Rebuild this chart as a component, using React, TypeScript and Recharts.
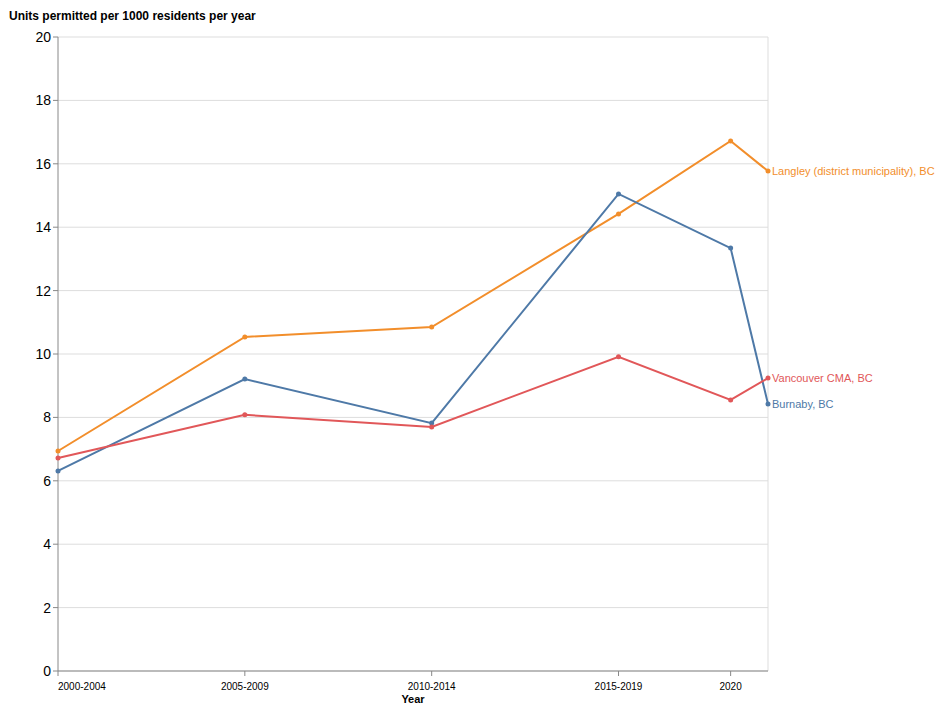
import React from 'react';
import { LineChart, Line, XAxis, YAxis, CartesianGrid, ReferenceLine } from 'recharts';

const years = [2000, 2005, 2010, 2015, 2018, 2019];
const tickYears = [2000, 2005, 2010, 2015, 2018];
const tickLabels = ['2000-2004', '2005-2009', '2010-2014', '2015-2019', '2020'];
const langley = [6.94, 10.54, 10.85, 14.42, 16.72, 15.77];
const burnaby = [6.31, 9.21, 7.82, 15.05, 13.34, 8.42];
const vancouver = [6.72, 8.08, 7.7, 9.91, 8.55, 9.24];
const yTicks = [0, 2, 4, 6, 8, 10, 12, 14, 16, 18, 20];

const series = [
  { key: 'langley', name: 'Langley (district municipality), BC', color: '#f28e2b' },
  { key: 'burnaby', name: 'Burnaby, BC', color: '#4e79a7' },
  { key: 'vancouver', name: 'Vancouver CMA, BC', color: '#e15759' },
];

const data = years.map((y, i) => ({
  year: y,
  langley: langley[i],
  burnaby: burnaby[i],
  vancouver: vancouver[i],
}));

const XTick = (props: any) => {
  const { x, y, payload } = props;
  const idx = tickYears.indexOf(payload.value);
  return (
    <text x={x} y={y + 12} textAnchor={idx === 0 ? 'start' : 'middle'} fontSize={10} fill="#000" fontFamily="Arial, Liberation Sans, sans-serif">
      {tickLabels[idx]}
    </text>
  );
};

const endLabel = (name: string, color: string) => (props: any) => {
  const { x, y, index } = props;
  if (index !== years.length - 1) return null;
  return (
    <text x={x + 4} y={y + 4} fontSize={11} fill={color} fontFamily="Arial, Liberation Sans, sans-serif">
      {name}
    </text>
  );
};

export default function App() {
  return (
    <div style={{ position: 'absolute', left: 0, top: 0, width: 950, height: 707, background: '#fff' }}>
      <div style={{ position: 'absolute', left: 9, top: 9, fontFamily: 'Arial, Liberation Sans, sans-serif', fontWeight: 'bold', fontSize: 12 }}>
        Units permitted per 1000 residents per year
      </div>
      <LineChart width={950} height={707} data={data} margin={{ top: 37, right: 182, bottom: 0, left: 8 }}>
        <CartesianGrid vertical={false} stroke="#ddd" />
        <ReferenceLine x={2019} stroke="#ddd" />
        <XAxis
          dataKey="year"
          type="number"
          domain={[2000, 2019]}
          ticks={tickYears}
          tick={<XTick />}
          tickSize={5}
          stroke="#888"
          height={36}
          interval={0}
          label={{ value: 'Year', position: 'insideBottom', offset: 4, fontSize: 11, fontWeight: 'bold', fill: '#000', fontFamily: 'Arial, Liberation Sans, sans-serif' }}
        />
        <YAxis
          domain={[0, 20]}
          ticks={yTicks}
          width={50}
          tickSize={5}
          tickMargin={2}
          stroke="#888"
          tick={{ fontSize: 14, fill: '#000', fontFamily: 'Arial, Liberation Sans, sans-serif' }}
        />
        {series.map((s) => (
          <Line
            key={s.key}
            dataKey={s.key}
            stroke={s.color}
            strokeWidth={2}
            dot={{ r: 2.5, fill: s.color, stroke: s.color, strokeWidth: 0 }}
            activeDot={false}
            isAnimationActive={false}
            label={endLabel(s.name, s.color)}
          />
        ))}
      </LineChart>
    </div>
  );
}
